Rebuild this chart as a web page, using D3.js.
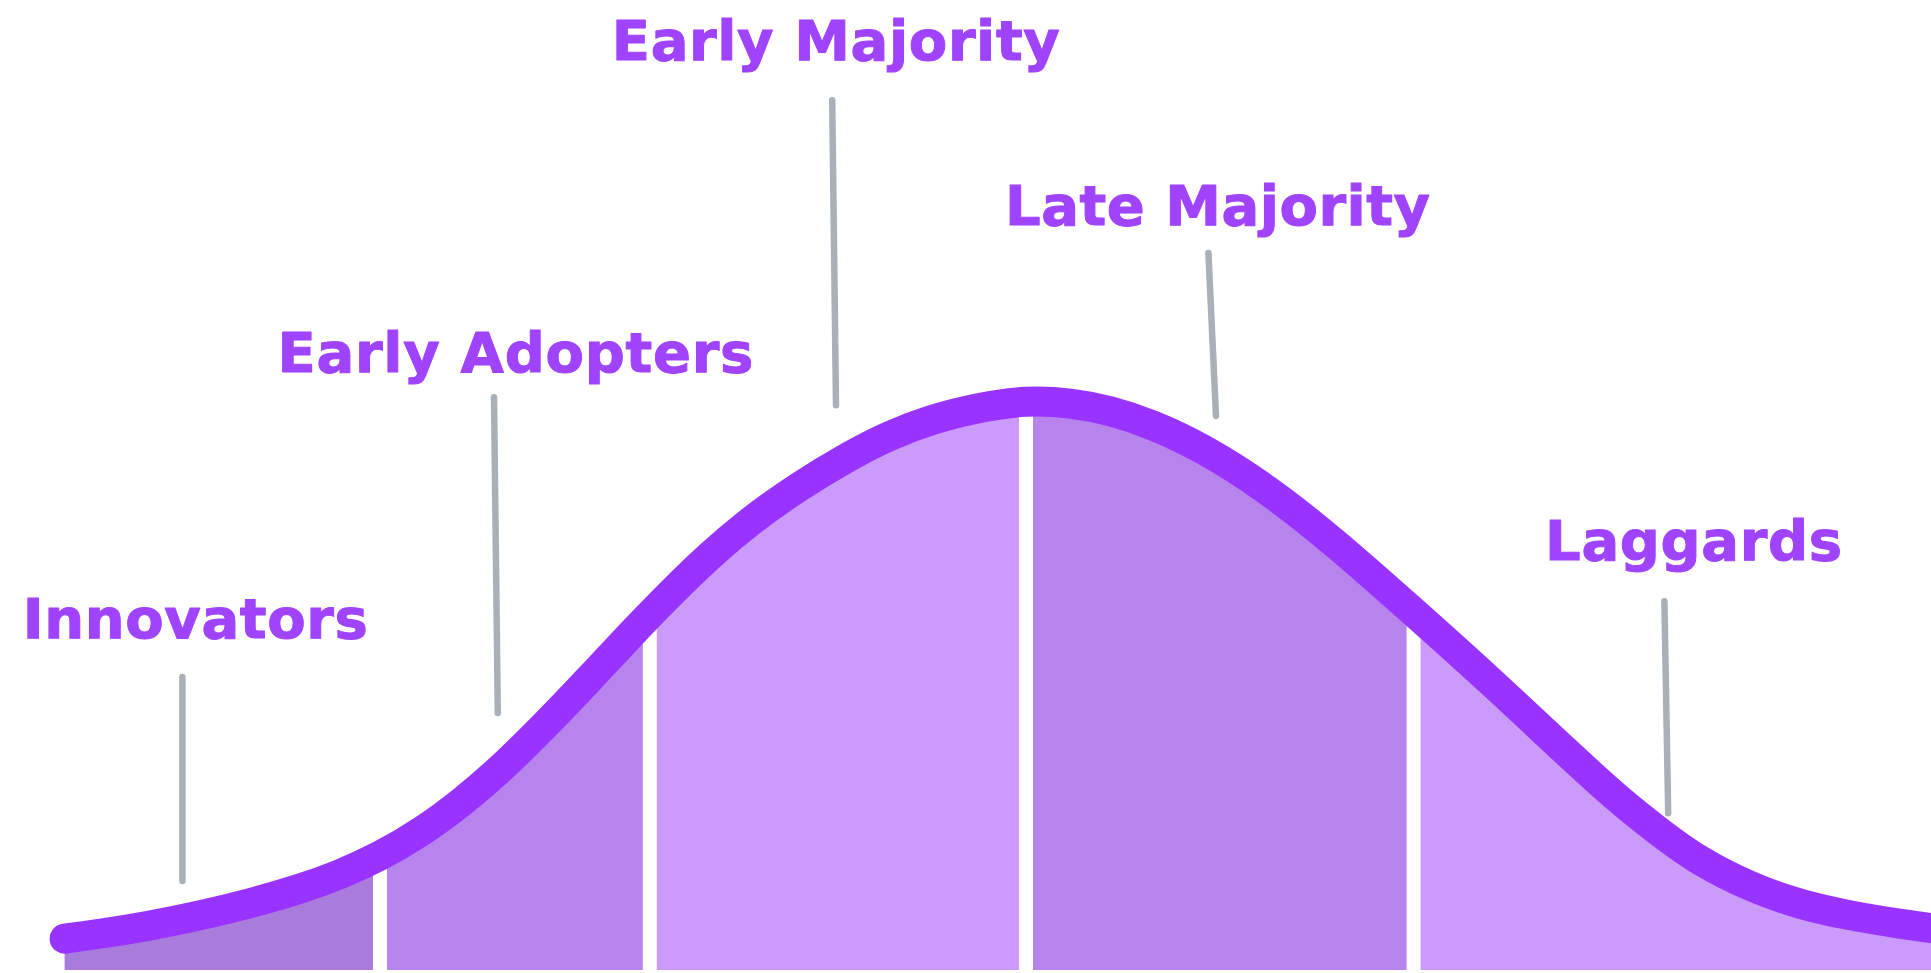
<!DOCTYPE html>
<html>
<head>
<meta charset="utf-8">
<script src="https://cdn.jsdelivr.net/npm/d3@7"></script>
<style>
  html, body { margin: 0; padding: 0; background: #fff; overflow: hidden; }
  #chart { display: block; }
</style>
</head>
<body>
<svg id="chart"></svg>
<script>
// adoption curve
// x = distance from the peak in standard deviations, y = % of the peak height
const curveX = [-2.53, -2.44, -2.31, -2.17, -2.04, -1.91, -1.81, -1.70, -1.59, -1.48,
  -1.37, -1.26, -1.15, -1.04, -0.94, -0.83, -0.73, -0.60, -0.46, -0.36,
  -0.25, -0.13, 0, 0.12, 0.22, 0.33, 0.46, 0.63, 0.81, 1.00,
  1.22, 1.43, 1.56, 1.67, 1.77, 1.91, 2.04, 2.17, 2.30, 2.42];
const curveY = [5.5, 6.3, 7.7, 9.6, 11.7, 14.2, 16.6, 19.9, 24.2, 29.6,
  36.0, 43.3, 51.0, 58.9, 65.8, 72.9, 78.6, 84.8, 90.4, 93.8,
  96.6, 98.6, 100, 99.5, 98.2, 95.8, 91.8, 84.7, 75.2, 64.0,
  50.9, 37.7, 29.8, 24.0, 19.1, 14.4, 11.4, 9.5, 8.1, 7.0];

const groups = ["Innovators", "Early Adopters", "Early Majority", "Late Majority", "Laggards"];
// dividing lines between the groups (same units as curveX)
const groupBounds = [-1.70, -0.99, 0, 1.02];

const groupColors = {
  'Innovators': '#a97cdb',
  'Early Adopters': '#b783ec',
  'Early Majority': '#cb9bfb',
  'Late Majority': '#b783ec',
  'Laggards': '#cb9bfb',
};

// where each label and its pointer sit, in chart units
const labelLayout = {
  'Innovators':     { x: -2.64, y: 58.2,  w: 345, line: [[-2.22, 51.4], [-2.22, 15.6]] },
  'Early Adopters': { x: -1.97, y: 104.9, w: 476, line: [[-1.40, 100.5], [-1.39, 45.1]] },
  'Early Majority': { x: -1.09, y: 159.6, w: 448, line: [[-0.51, 152.6], [-0.50, 99.1]] },
  'Late Majority':  { x: -0.055, y: 130.7, w: 425, line: [[0.48, 125.8], [0.50, 97.2]] },
  'Laggards':       { x: 1.366, y: 71.9,  w: 297, line: [[1.68, 64.7], [1.69, 27.5]] },
};

const width = 1931;
const height = 973;
const gap = 14;

const data = curveX.map((x, i) => ({ x: x, y: curveY[i] }));

const svg = d3.select("#chart")
  .attr("width", width)
  .attr("height", height);

const xScale = d3.scaleLinear()
  .domain([-2.6, 2.4])
  .range([38, 1938]);

const yScale = d3.scaleLinear()
  .domain([0, 100])
  .range([970, 400]);

const area = d3.area()
  .x(d => xScale(d.x))
  .y0(yScale(0))
  .y1(d => yScale(d.y))
  .curve(d3.curveBasis);

const line = d3.line()
  .x(d => xScale(d.x))
  .y(d => yScale(d.y))
  .curve(d3.curveBasis);

// one clip rectangle per group, leaving a white gap between them
const edges = [xScale.domain()[0] - 1].concat(groupBounds, [xScale.domain()[1] + 1]);
const defs = svg.append("defs");
groups.forEach((g, i) => {
  const x0 = xScale(edges[i]) + (i === 0 ? 0 : gap / 2);
  const x1 = xScale(edges[i + 1]) - (i === groups.length - 1 ? 0 : gap / 2);
  defs.append("clipPath")
    .attr("id", "clip-" + i)
    .append("rect")
    .attr("x", x0)
    .attr("y", 0)
    .attr("width", x1 - x0)
    .attr("height", height);
});

svg.append("g")
  .selectAll("path")
  .data(groups)
  .enter()
  .append("path")
  .attr("d", area(data))
  .attr("clip-path", (d, i) => "url(#clip-" + i + ")")
  .attr("fill", d => groupColors[d]);

svg.append("path")
  .datum(data)
  .attr("d", line)
  .attr("fill", "none")
  .attr("stroke", "#9933ff")
  .attr("stroke-width", 30)
  .attr("stroke-linecap", "round")
  .attr("stroke-linejoin", "round");

// pointer lines
svg.append("g")
  .selectAll("line")
  .data(groups)
  .enter()
  .append("line")
  .attr("x1", d => xScale(labelLayout[d].line[0][0]))
  .attr("y1", d => yScale(labelLayout[d].line[0][1]))
  .attr("x2", d => xScale(labelLayout[d].line[1][0]))
  .attr("y2", d => yScale(labelLayout[d].line[1][1]))
  .attr("stroke", "#aab0b8")
  .attr("stroke-width", 6.5)
  .attr("stroke-linecap", "round");

svg.append("g")
  .selectAll("text")
  .data(groups)
  .enter()
  .append("text")
  .attr("x", d => xScale(labelLayout[d].x))
  .attr("y", d => yScale(labelLayout[d].y))
  .attr("textLength", d => labelLayout[d].w)
  .attr("lengthAdjust", "spacing")
  .attr("font-family", "'DejaVu Sans', sans-serif")
  .attr("font-weight", "bold")
  .attr("font-size", 56)
  .attr("fill", "#a043fc")
  .attr("stroke", "#a043fc")
  .attr("stroke-width", 1)
  .attr("stroke-linejoin", "round")
  .text(d => d);
</script>
</body>
</html>
